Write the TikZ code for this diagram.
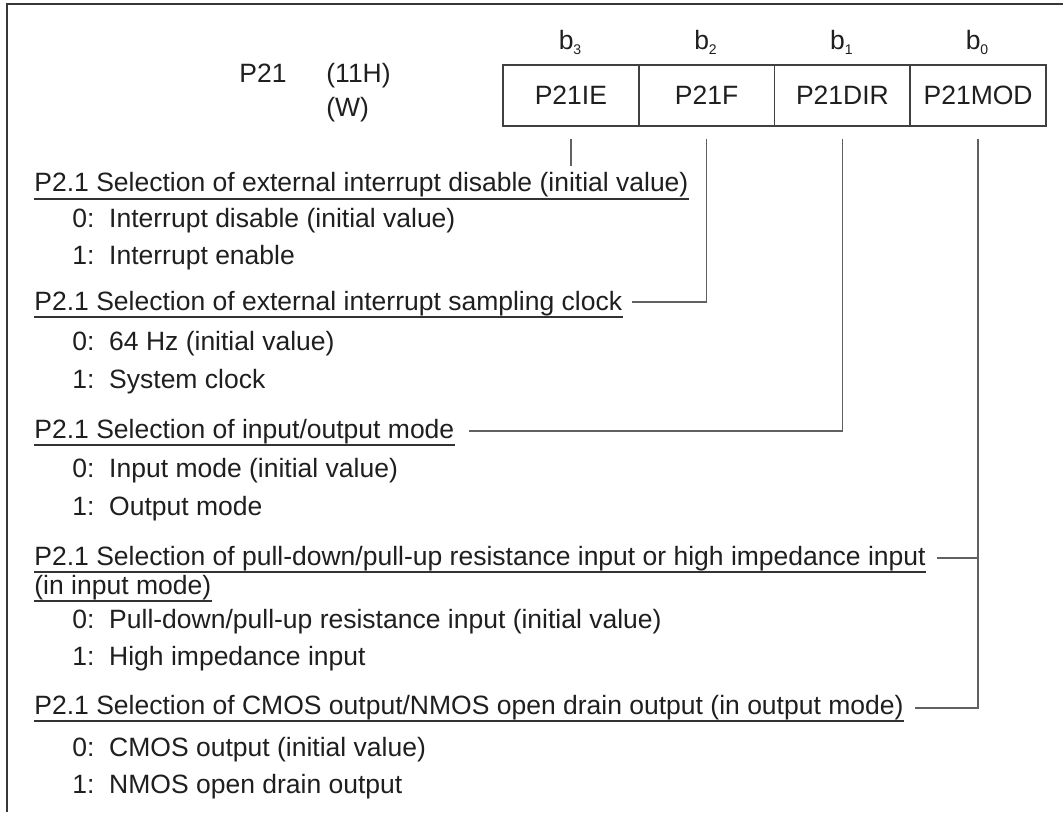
\documentclass[tikz,border=0pt]{standalone}
\usepackage{fontspec}
\setmainfont{Liberation Sans}
\usetikzlibrary{calc}
\newcommand{\regfont}{\fontsize{13.25pt}{16pt}\selectfont}
\newcommand{\bsub}[1]{b\raisebox{-2.5pt}{\fontsize{7pt}{7pt}\selectfont #1}}
\begin{document}
\begin{tikzpicture}[x=0.5pt,y=-0.5pt,
  txt/.style={inner sep=0pt, anchor=base west, font=\regfont, text=black!88},
  cell/.style={draw=black!75, line width=0.75pt, minimum width=67.875pt, minimum height=30.5pt, inner sep=0pt, font=\regfont, text=black!88},
  bitlab/.style={inner sep=0pt, anchor=base, font=\regfont, text=black!88},
  conn/.style={draw=black!62, line width=0.75pt},
  uline/.style={draw=black!80, line width=0.7pt},
  frameline/.style={draw=black!78, line width=1pt}]
\useasboundingbox (0,0) rectangle (1063,812);
\fill[white] (0,0) rectangle (1063,812);
\draw[frameline] (1063,4) -- (7,4) -- (7,812);

% register header
\node[txt] (reg) at (239,83) {P21};
\node[txt] (addr) at (326,83) {(11H)};
\node[txt] (rw) at (326,117) {(W)};

% cells
\node[cell] (c3) at (570.9,95.5) {P21IE};
\node[cell] (c2) at (706.6,95.5) {P21F};
\node[cell] (c1) at (842.4,95.5) {P21DIR};
\node[cell] (c0) at (978.1,95.5) {P21MOD};

% bit labels
\node[bitlab] (b3) at (570,50) {\bsub{3}};
\node[bitlab] (b2) at (705.5,50) {\bsub{2}};
\node[bitlab] (b1) at (841.4,50) {\bsub{1}};
\node[bitlab] (b0) at (977,50) {\bsub{0}};

% descriptions
\node[txt] (h1) at (34,192) {P2.1 Selection of external interrupt disable (initial value)};
\node[txt] (i1a) at (72,228) {0:\ \ Interrupt disable (initial value)};
\node[txt] (i1b) at (72,264) {1:\ \ Interrupt enable};
\node[txt] (h2) at (34,310) {P2.1 Selection of external interrupt sampling clock};
\node[txt] (i2a) at (72,350) {0:\ \ 64 Hz (initial value)};
\node[txt] (i2b) at (72,388) {1:\ \ System clock};
\node[txt] (h3) at (34,438) {P2.1 Selection of input/output mode};
\node[txt] (i3a) at (72,477) {0:\ \ Input mode (initial value)};
\node[txt] (i3b) at (72,515) {1:\ \ Output mode};
\node[txt] (h4) at (34,565) {P2.1 Selection of pull-down/pull-up resistance input or high impedance input};
\node[txt] (h4b) at (34,594) {(in input mode)};
\node[txt] (i4a) at (72,628) {0:\ \ Pull-down/pull-up resistance input (initial value)};
\node[txt] (i4b) at (72,665) {1:\ \ High impedance input};
\node[txt] (h5) at (34,714) {P2.1 Selection of CMOS output/NMOS open drain output (in output mode)};
\node[txt] (i5a) at (72,756) {0:\ \ CMOS output (initial value)};
\node[txt] (i5b) at (72,793) {1:\ \ NMOS open drain output};

% underlines
\foreach \h in {h1,h2,h3,h4,h4b,h5}
  \draw[uline] ($(\h.base west)+(0,7)$) -- ($(\h.base east)+(0,7)$);

% connector end points
\coordinate (h2e) at ($(h2.base east)+(9,-8)$);
\coordinate (h3e) at ($(h3.base east)+(14,-7)$);
\coordinate (h4e) at ($(h4.base east)+(11,-7)$);
\coordinate (h5e) at ($(h5.base east)+(11,-6)$);

% connectors
\draw[conn] ($(c3.south)+(0,12)$) -- ($(c3.south)+(0,39)$);
\draw[conn] ($(c2.south)+(0,12)$) |- (h2e);
\draw[conn] ($(c1.south)+(0,12)$) |- (h3e);
\draw[conn] ($(c0.south)+(0,12)$) |- (h5e);
\draw[conn] (h4e) -- (h4e -| c0.south);
\end{tikzpicture}
\end{document}
